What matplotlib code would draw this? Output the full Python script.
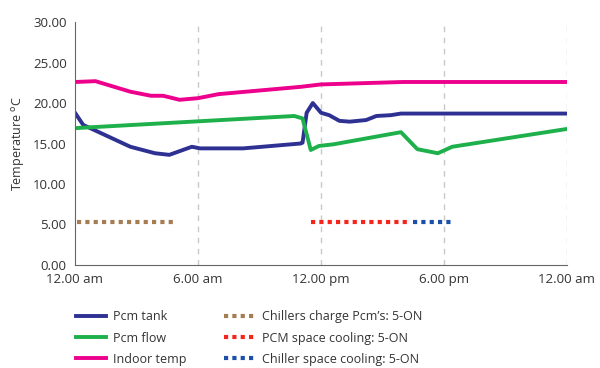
import matplotlib.pyplot as plt
from matplotlib.lines import Line2D

# hours after midnight
tank_t = [0, 0.4, 2.7, 3.9, 4.6, 5.7, 6.1, 8.2, 11.0, 11.1, 11.3, 11.6, 12.0, 12.4, 12.9, 13.4, 14.2, 14.7, 15.4, 15.9, 24]
tank_v = [18.8, 17.3, 14.6, 13.8, 13.6, 14.6, 14.4, 14.4, 15.0, 15.1, 18.8, 20.0, 18.8, 18.5, 17.8, 17.7, 17.9, 18.4, 18.5, 18.7, 18.7]

flow_t = [0, 10.7, 11.1, 11.5, 11.9, 12.6, 15.9, 16.7, 17.7, 18.4, 24]
flow_v = [16.9, 18.4, 18.1, 14.2, 14.7, 14.9, 16.4, 14.3, 13.8, 14.6, 16.8]

indoor_t = [0, 1.0, 2.7, 3.7, 4.3, 5.1, 6.0, 7.0, 11.0, 12.0, 16.0, 24]
indoor_v = [22.6, 22.7, 21.4, 20.9, 20.9, 20.4, 20.6, 21.1, 22.0, 22.3, 22.6, 22.6]

on_level = 5.3
charge_span = [0.1, 4.9]
pcm_cool_span = [11.5, 16.2]
chiller_cool_span = [16.5, 18.4]

xticks = [0, 6, 12, 18, 24]
xlabels = ['12.00 am', '6.00 am', '12.00 pm', '6.00 pm', '12.00 am']
yticks = [0, 5, 10, 15, 20, 25, 30]

plt.rcParams['font.family'] = ['Open Sans', 'DejaVu Sans']
txt = '#333333'

fig = plt.figure(figsize=(6, 3.68), dpi=100)
ax = fig.add_axes([0.125, 0.28, 0.82, 0.66])

c_tank, c_flow, c_indoor = '#2E3192', '#1DB04B', '#EC008C'
c_charge, c_pcm, c_chill = '#A67C52', '#F5251C', '#1B4FA8'

for x in [6, 12, 18, 24]:
    ax.axvline(x, color='#c8c8c8', lw=1, ls=(0, (4, 4)), zorder=0)

ax.plot(tank_t, tank_v, color=c_tank, lw=2.8)
ax.plot(flow_t, flow_v, color=c_flow, lw=2.8)
ax.plot(indoor_t, indoor_v, color=c_indoor, lw=2.8)

dot = (0, (1, 1))
ax.plot(charge_span, [on_level] * 2, color=c_charge, lw=3, ls=dot)
ax.plot(pcm_cool_span, [on_level] * 2, color=c_pcm, lw=3, ls=dot)
ax.plot(chiller_cool_span, [on_level] * 2, color=c_chill, lw=3, ls=dot)

ax.set_xlim(0, 24)
ax.set_ylim(0, 30)
ax.set_xticks(xticks)
ax.set_xticklabels(xlabels)
ax.set_yticks(yticks)
ax.set_yticklabels([f'{v:.2f}' for v in yticks])
ax.tick_params(length=0, labelsize=9.5, colors=txt, pad=6)
ax.set_ylabel('Temperature $^{\\mathrm{o}}$C', fontsize=9, color=txt)
for s in ['top', 'right']:
    ax.spines[s].set_visible(False)
for s in ['left', 'bottom']:
    ax.spines[s].set_color('#666666')

handles = [
    Line2D([], [], color=c_tank, lw=2.8),
    Line2D([], [], color=c_flow, lw=2.8),
    Line2D([], [], color=c_indoor, lw=2.8),
    Line2D([], [], color=c_charge, lw=3, ls=dot),
    Line2D([], [], color=c_pcm, lw=3, ls=dot),
    Line2D([], [], color=c_chill, lw=3, ls=dot),
]
labels = ['Pcm tank', 'Pcm flow', 'Indoor temp',
          "Chillers charge Pcm’s: 5-ON", 'PCM space cooling: 5-ON',
          'Chiller space cooling: 5-ON']
leg = fig.legend(handles, labels, ncol=2, loc='upper left',
                 bbox_to_anchor=(0.118, 0.17), frameon=False,
                 fontsize=9, handlelength=2.4, columnspacing=3.0,
                 labelspacing=0.65, borderaxespad=0, handletextpad=0.6)
for t in leg.get_texts():
    t.set_color(txt)

fig.savefig('out.png', dpi=100)
